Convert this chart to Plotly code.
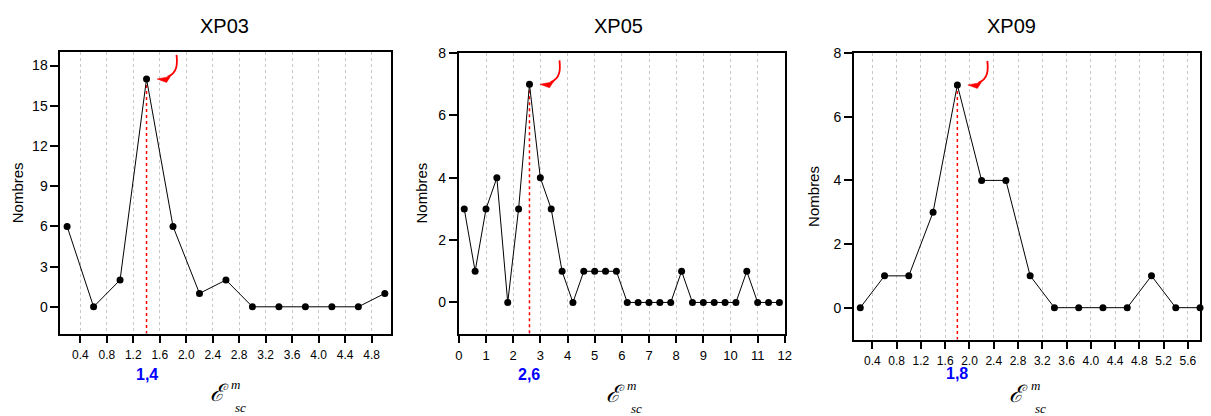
import plotly.graph_objects as go
import numpy as np

W, H = 1211, 416

# ---------------- data ----------------
titles = ["XP03", "XP05", "XP09"]
x_xp03 = [0.2, 0.6, 1.0, 1.4, 1.8, 2.2, 2.6, 3.0, 3.4, 3.8, 4.2, 4.6, 5.0]
y_xp03 = [6, 0, 2, 17, 6, 1, 2, 0, 0, 0, 0, 0, 1]

x_xp05 = [0.2, 0.6, 1.0, 1.4, 1.8, 2.2, 2.6, 3.0, 3.4, 3.8, 4.2, 4.6, 5.0, 5.4, 5.8,
          6.2, 6.6, 7.0, 7.4, 7.8, 8.2, 8.6, 9.0, 9.4, 9.8, 10.2, 10.6, 11.0, 11.4, 11.8]
y_xp05 = [3, 1, 3, 4, 0, 3, 7, 4, 3, 1, 0, 1, 1, 1, 1,
          0, 0, 0, 0, 0, 1, 0, 0, 0, 0, 0, 1, 0, 0, 0]

x_xp09 = [0.2, 0.6, 1.0, 1.4, 1.8, 2.2, 2.6, 3.0, 3.4, 3.8, 4.2, 4.6, 5.0, 5.4, 5.8]
y_xp09 = [0, 1, 1, 3, 7, 4, 4, 1, 0, 0, 0, 0, 1, 0, 0]

peak_labels = ["1,4", "2,6", "1,8"]

x_ranges = [[0.1, 5.1], [0, 12], [0.1, 5.8]]
y_ranges = [[-2, 19], [-1, 8], [-1, 8]]
x_dticks = [0.4, 1, 0.4]
y_dticks = [3, 2, 2]
x_tickfmt = [".1f", "d", ".1f"]
x_tickfont = [12, 13, 12]

# ---------------- layout (pixel boxes) ----------------
boxes = [  # left, right, top, bottom in px
    (57, 391, 45, 332),
    (459, 788, 46, 332),
    (858, 1207, 46, 338),
]
title_px = [(222.5, 18), (620, 18), (1017, 18)]
ytitle_px = [14.5, 421, 817]
blue_label_py = [374, 374, 373]
e_px = [(217, 393), (617, 394), (1024, 394)]

series = [(x_xp03, y_xp03), (x_xp05, y_xp05), (x_xp09, y_xp09)]

fig = go.Figure()
layout = dict(width=W, height=H, margin=dict(l=0, r=0, t=0, b=0),
              paper_bgcolor="white", plot_bgcolor="white", showlegend=False,
              font=dict(family="Liberation Sans, Arial, sans-serif", color="black"))
shapes = []
annotations = []

for i, ((xs, ys), (l, r, t, b)) in enumerate(zip(series, boxes)):
    n = i + 1
    xa = "x" if n == 1 else f"x{n}"
    ya = "y" if n == 1 else f"y{n}"
    xkey = "xaxis" if n == 1 else f"xaxis{n}"
    ykey = "yaxis" if n == 1 else f"yaxis{n}"
    xd = [l / W, r / W]
    yd = [1 - b / H, 1 - t / H]

    fig.add_trace(go.Scatter(
        x=xs, y=ys, mode="lines+markers", xaxis=xa, yaxis=ya,
        line=dict(color="black", width=1),
        marker=dict(color="black", size=7), cliponaxis=False))

    layout[xkey] = dict(
        domain=xd, anchor=ya, range=x_ranges[i], tick0=0, dtick=x_dticks[i],
        tickformat=x_tickfmt[i], ticks="outside", ticklen=7, tickwidth=2,
        tickcolor="black", showline=True, linecolor="black", linewidth=2,
        mirror=True, showgrid=True, gridcolor="#c8c8c8", griddash="dot",
        gridwidth=1, zeroline=False, tickfont=dict(size=x_tickfont[i]),
        ticklabelstandoff=2)
    layout[ykey] = dict(
        domain=yd, anchor=xa, range=y_ranges[i], tick0=0, dtick=y_dticks[i],
        ticks="outside", ticklen=8, tickwidth=2, tickcolor="black",
        showline=True, linecolor="black", linewidth=2, mirror=True,
        showgrid=False, zeroline=False, tickfont=dict(size=14))

    # small mirrored ticks on top and right
    ox = f"xaxis{n + 3}"
    oy = f"yaxis{n + 3}"
    layout[ox] = dict(overlaying=xa, side="top", anchor=ya, range=x_ranges[i],
                      tick0=0, dtick=x_dticks[i], ticks="outside", ticklen=3,
                      tickwidth=1.5, tickcolor="black", showticklabels=False,
                      showgrid=False, zeroline=False, showline=False)
    layout[oy] = dict(overlaying=ya, side="right", anchor=xa, range=y_ranges[i],
                      tick0=0, dtick=y_dticks[i], ticks="outside", ticklen=3,
                      tickwidth=1.5, tickcolor="black", showticklabels=False,
                      showgrid=False, zeroline=False, showline=False)

    # peak
    k = int(np.argmax(ys))
    px_, py_ = xs[k], ys[k]
    ymin = y_ranges[i][0]

    # red dotted drop line
    shapes.append(dict(type="line", xref=xa, yref=ya, x0=px_, x1=px_,
                       y0=py_, y1=ymin, line=dict(color="red", width=1.5, dash="dot"),
                       layer="below"))
    # blue tick below axis
    shapes.append(dict(type="line", xref=xa, yref=ya, xsizemode="scaled",
                       ysizemode="pixel", yanchor=ymin, x0=px_, x1=px_,
                       y0=0, y1=-23, line=dict(color="blue", width=1.5)))
    # curved red arrow
    shapes.append(dict(type="path", xref=xa, yref=ya, xsizemode="pixel",
                       ysizemode="pixel", xanchor=px_, yanchor=py_,
                       path="M 30,24 C 31,15 31,6 21,2",
                       line=dict(color="red", width=1.8)))
    shapes.append(dict(type="path", xref=xa, yref=ya, xsizemode="pixel",
                       ysizemode="pixel", xanchor=px_, yanchor=py_,
                       path="M 10.5,0 L 24,2.5 L 20,-3.5 Z",
                       fillcolor="red", line=dict(color="red", width=0.5)))

    # blue peak label
    annotations.append(dict(xref=xa, yref="paper", x=px_, y=1 - blue_label_py[i] / H,
                            text=f"<b>{peak_labels[i]}</b>", showarrow=False,
                            font=dict(size=16, color="blue"),
                            xanchor="center", yanchor="middle"))
    # title
    annotations.append(dict(xref="paper", yref="paper", x=title_px[i][0] / W,
                            y=1 - title_px[i][1] / H, text=titles[i], showarrow=False,
                            font=dict(size=20), xanchor="center", yanchor="middle"))
    # y title
    annotations.append(dict(xref="paper", yref="paper", x=ytitle_px[i] / W,
                            y=(yd[0] + yd[1]) / 2, text="Nombres", textangle=-90,
                            showarrow=False, font=dict(size=15),
                            xanchor="center", yanchor="middle"))
    # x title: script E with stacked m / sc
    ex, ey = e_px[i]
    annotations.append(dict(xref="paper", yref="paper", x=ex / W, y=1 - ey / H,
                            text="<i>ℰ</i>", showarrow=False,
                            font=dict(size=24, family="DejaVu Serif, serif"),
                            xanchor="center", yanchor="middle"))
    annotations.append(dict(xref="paper", yref="paper", x=(ex + 10) / W,
                            y=1 - (ey - 9) / H, text="<i>m</i>", showarrow=False,
                            font=dict(size=13, family="Liberation Serif, serif"),
                            xanchor="left", yanchor="middle"))
    annotations.append(dict(xref="paper", yref="paper", x=(ex + 14) / W,
                            y=1 - (ey + 14) / H, text="<i>sc</i>", showarrow=False,
                            font=dict(size=13, family="Liberation Serif, serif"),
                            xanchor="left", yanchor="middle"))

layout["shapes"] = shapes
layout["annotations"] = annotations
fig.update_layout(**layout)
fig.write_html("out.html", config={"displayModeBar": False},
               post_script="document.body.style.margin='0';document.body.style.overflow='hidden';")
